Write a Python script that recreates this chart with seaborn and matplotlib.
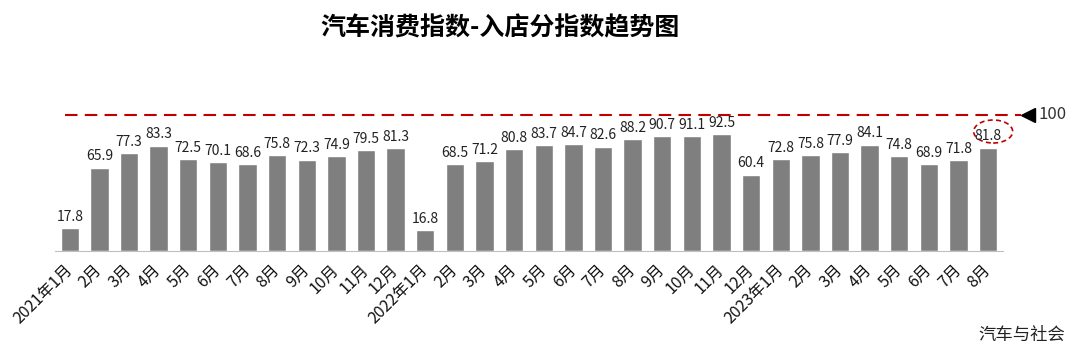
import numpy as np
import matplotlib
matplotlib.use("Agg")
import matplotlib.pyplot as plt
import matplotlib.transforms as mtransforms
from matplotlib.patches import Ellipse
import seaborn as sns

sns.set_style("white")
plt.rcParams['font.family'] = ['Noto Sans CJK SC', 'DejaVu Sans']

# ==========================================
# Data
# ==========================================

tick_labels = [
    "2021年1月", "2月", "3月", "4月", "5月", "6月", "7月", "8月", "9月", "10月", "11月", "12月",
    "2022年1月", "2月", "3月", "4月", "5月", "6月", "7月", "8月", "9月", "10月", "11月", "12月",
    "2023年1月", "2月", "3月", "4月", "5月", "6月", "7月", "8月",
]

index_values = [
    17.8, 65.9, 77.3, 83.3, 72.5, 70.1, 68.6, 75.8, 72.3, 74.9, 79.5, 81.3,
    16.8, 68.5, 71.2, 80.8, 83.7, 84.7, 82.6, 88.2, 90.7, 91.1, 92.5, 60.4,
    72.8, 75.8, 77.9, 84.1, 74.8, 68.9, 71.8, 81.8,
]

reference_value = 100
title = "汽车消费指数-入店分指数趋势图"
source = "汽车与社会"

red = "#C00000"

# ==========================================
# Figure
# ==========================================

fig = plt.figure(figsize=(10.8, 3.53), dpi=100)
ax = fig.add_axes([0.0509, 0.289, 0.8778, 0.430])

positions = np.arange(len(index_values))

sns.barplot(
    x=positions,
    y=index_values,
    color="#7F7F7F",
    saturation=1,
    width=0.62,
    ax=ax
)

ax.set_xlim(-0.5, len(index_values) - 0.5)
ax.set_ylim(0, 120)

ax.bar_label(ax.containers[0], fmt="%.1f", padding=3, fontsize=10, color="#222222")

# x axis: ticks at category boundaries, labels at centres
ax.set_xticks(positions)
ax.set_xticklabels(tick_labels, rotation=45, ha="right", va="center",
                   rotation_mode="anchor", fontsize=11.5, color="#111111")
ax.set_xticks(np.arange(len(index_values) + 1) - 0.5, minor=True)
ax.tick_params(axis="x", which="major", length=0, pad=12)
ax.tick_params(axis="x", which="minor", length=5, color="#A6A6A6", width=0.8)

ax.set_yticks([])
ax.set_xlabel("")
ax.set_ylabel("")
for side in ["top", "right", "left"]:
    ax.spines[side].set_visible(False)
ax.spines["bottom"].set_color("#BFBFBF")
ax.spines["bottom"].set_linewidth(0.8)

# reference line at 100 (drawn slightly above so it clears the labels)
ref_trans = mtransforms.blended_transform_factory(ax.transAxes, ax.transData)
ref_trans = ref_trans + mtransforms.ScaledTranslation(0, 9.5 / 100, fig.dpi_scale_trans)

ax.plot([0.0105, 1.019], [reference_value, reference_value],
        color=red, lw=1.5, dashes=(6, 3.5), transform=ref_trans, clip_on=False)
ax.plot([1.0264], [reference_value], marker="<", markersize=9.5,
        color="black", transform=ref_trans, clip_on=False)
ax.text(1.037, reference_value, str(reference_value), fontsize=12,
        color="#333333", ha="left", va="center", transform=ref_trans)

# dashed ellipse around the latest value label
last = len(index_values) - 1
circle_trans = fig.dpi_scale_trans + mtransforms.ScaledTranslation(
    last, index_values[last], ax.transData)
ax.add_patch(Ellipse((0.05, 0.16), 0.39, 0.23, transform=circle_trans,
                     fill=False, ec=red, lw=1.2, ls=(0, (3, 2)), clip_on=False))

fig.text(0.463, 0.921, title, fontsize=18, fontweight="black",
         ha="center", va="center", color="black")
fig.text(0.986, 0.051, source, fontsize=12.5, ha="right", va="center",
         color="#222222")

plt.savefig("out.png", dpi=100)
plt.close()
